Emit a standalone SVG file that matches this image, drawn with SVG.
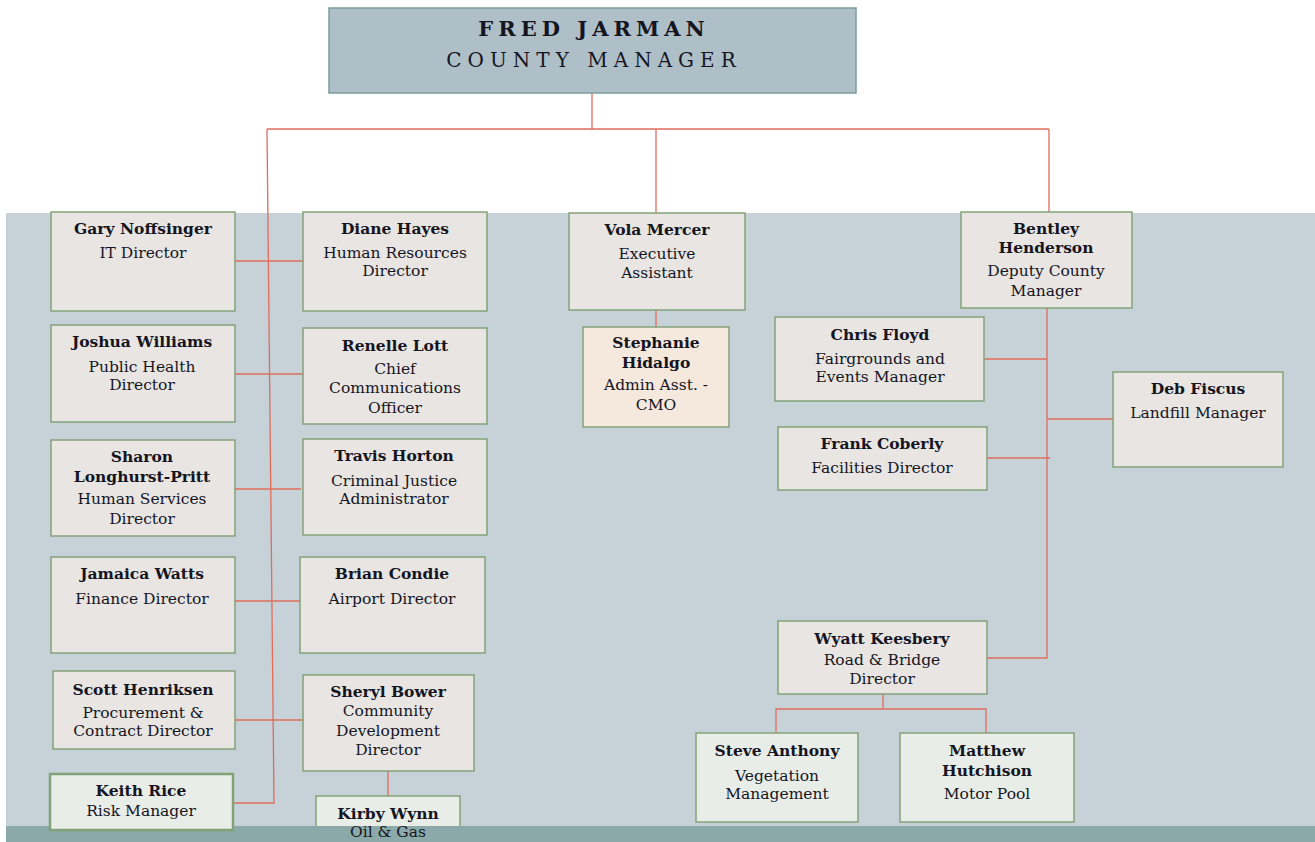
<svg xmlns="http://www.w3.org/2000/svg" width="1315" height="842" viewBox="0 0 1315 842">
<style>
.box{fill:#e8e5e2;stroke:#82a378;stroke-width:1.5}
.peach{fill:#f5e8dc;stroke:#82a378;stroke-width:1.5}
.lt{fill:#e9ede8;stroke:#82a378;stroke-width:1.5}
.lt2{fill:#e9ede8;stroke:#82a378;stroke-width:2.5}
.n{font-family:"DejaVu Serif","Liberation Serif",serif;font-weight:bold;font-size:15.5px;fill:#15151f;text-anchor:middle}
.t{font-family:"DejaVu Serif","Liberation Serif",serif;font-size:15.5px;fill:#15151f;text-anchor:middle}
.c{stroke:#e06d5c;stroke-width:1.3;fill:none}
.h1{font-family:"DejaVu Serif","Liberation Serif",serif;font-weight:bold;font-size:21px;letter-spacing:5px;fill:#15151f;text-anchor:middle}
.h2{font-family:"DejaVu Serif","Liberation Serif",serif;font-size:20px;letter-spacing:6px;fill:#15151f;text-anchor:middle}
</style>
<defs>
<clipPath id="clipK"><rect x="0" y="0" width="1315" height="826"/></clipPath>
</defs>
<rect x="0" y="0" width="1315" height="842" fill="#ffffff"/>
<rect x="6" y="213" width="1309" height="613" fill="#c6d1d8"/>
<rect x="6" y="826" width="1309" height="16" fill="#8aa9a8"/>

<g id="connectors">
<path class="c" d="M592 93V129M267 129H1049M656 129V213M1049 129V212"/>
<path class="c" d="M267 129L274 803H233"/>
<path class="c" d="M235 261H303M235 374H305M232 489H301M235 601H300M235 720H303M388 771V796"/>
<path class="c" d="M656 310V327"/>
<path class="c" d="M1047 308V658H987M984 359H1047M1047 419H1113M987 458H1050"/>
<path class="c" d="M883 694V709M776 733V709H986V733"/>
</g>

<g id="fred-jarman">
<rect x="329" y="8" width="527" height="85" fill="#aebfc8" stroke="#7a9e9a" stroke-width="1.5"/>
<text class="h1" x="594" y="36">FRED JARMAN</text>
<text class="h2" x="594" y="67">COUNTY MANAGER</text>
</g>

<g id="gary-noffsinger">
<rect class="box" x="51" y="212" width="184" height="99"/>
<text class="n" x="143" y="234">Gary Noffsinger</text>
<text class="t" x="143" y="258">IT Director</text>
</g>
<g id="diane-hayes">
<rect class="box" x="303" y="212" width="184" height="99"/>
<text class="n" x="395" y="234">Diane Hayes</text>
<text class="t" x="395" y="258">Human Resources</text>
<text class="t" x="395" y="276">Director</text>
</g>
<g id="joshua-williams">
<rect class="box" x="51" y="325" width="184" height="97"/>
<text class="n" x="142" y="347">Joshua Williams</text>
<text class="t" x="142" y="372">Public Health</text>
<text class="t" x="142" y="390">Director</text>
</g>
<g id="renelle-lott">
<rect class="box" x="303" y="328" width="184" height="96"/>
<text class="n" x="395" y="351">Renelle Lott</text>
<text class="t" x="395" y="374">Chief</text>
<text class="t" x="395" y="393">Communications</text>
<text class="t" x="395" y="413">Officer</text>
</g>
<g id="sharon-longhurst-pritt">
<rect class="box" x="51" y="440" width="184" height="96"/>
<text class="n" x="142" y="462">Sharon</text>
<text class="n" x="142" y="482">Longhurst-Pritt</text>
<text class="t" x="142" y="504">Human Services</text>
<text class="t" x="142" y="524">Director</text>
</g>
<g id="travis-horton">
<rect class="box" x="303" y="439" width="184" height="96"/>
<text class="n" x="394" y="461">Travis Horton</text>
<text class="t" x="394" y="486">Criminal Justice</text>
<text class="t" x="394" y="504">Administrator</text>
</g>
<g id="jamaica-watts">
<rect class="box" x="51" y="557" width="184" height="96"/>
<text class="n" x="142" y="579">Jamaica Watts</text>
<text class="t" x="142" y="604">Finance Director</text>
</g>
<g id="brian-condie">
<rect class="box" x="300" y="557" width="185" height="96"/>
<text class="n" x="392" y="579">Brian Condie</text>
<text class="t" x="392" y="604">Airport Director</text>
</g>
<g id="scott-henriksen">
<rect class="box" x="53" y="671" width="182" height="78"/>
<text class="n" x="143" y="695">Scott Henriksen</text>
<text class="t" x="143" y="718">Procurement &amp;</text>
<text class="t" x="143" y="736">Contract Director</text>
</g>
<g id="sheryl-bower">
<rect class="box" x="303" y="675" width="171" height="96"/>
<text class="n" x="388" y="697">Sheryl Bower</text>
<text class="t" x="388" y="716">Community</text>
<text class="t" x="388" y="736">Development</text>
<text class="t" x="388" y="755">Director</text>
</g>
<g id="keith-rice">
<rect class="lt2" x="50" y="774" width="183" height="56"/>
<text class="n" x="141" y="796">Keith Rice</text>
<text class="t" x="141" y="816">Risk Manager</text>
</g>
<g id="kirby-wynn">
<rect class="lt" x="316" y="796" width="144" height="60" clip-path="url(#clipK)"/>
<text class="n" x="388" y="819">Kirby Wynn</text>
<text class="t" x="388" y="837" font-size="13.5">Oil &amp; Gas</text>
</g>

<g id="vola-mercer">
<rect class="box" x="569" y="213" width="176" height="97"/>
<text class="n" x="657" y="235">Vola Mercer</text>
<text class="t" x="657" y="259">Executive</text>
<text class="t" x="657" y="278">Assistant</text>
</g>
<g id="stephanie-hidalgo">
<rect class="peach" x="583" y="327" width="146" height="100"/>
<text class="n" x="656" y="348">Stephanie</text>
<text class="n" x="656" y="368">Hidalgo</text>
<text class="t" x="656" y="390">Admin Asst. -</text>
<text class="t" x="656" y="410">CMO</text>
</g>

<g id="bentley-henderson">
<rect class="box" x="961" y="212" width="171" height="96"/>
<text class="n" x="1046" y="234">Bentley</text>
<text class="n" x="1046" y="253">Henderson</text>
<text class="t" x="1046" y="276">Deputy County</text>
<text class="t" x="1046" y="296">Manager</text>
</g>
<g id="chris-floyd">
<rect class="box" x="775" y="317" width="209" height="84"/>
<text class="n" x="880" y="340">Chris Floyd</text>
<text class="t" x="880" y="364">Fairgrounds and</text>
<text class="t" x="880" y="382">Events Manager</text>
</g>
<g id="deb-fiscus">
<rect class="box" x="1113" y="372" width="170" height="95"/>
<text class="n" x="1198" y="394">Deb Fiscus</text>
<text class="t" x="1198" y="418">Landfill Manager</text>
</g>
<g id="frank-coberly">
<rect class="box" x="778" y="427" width="209" height="63"/>
<text class="n" x="882" y="449">Frank Coberly</text>
<text class="t" x="882" y="473">Facilities Director</text>
</g>
<g id="wyatt-keesbery">
<rect class="box" x="778" y="621" width="209" height="73"/>
<text class="n" x="882" y="644">Wyatt Keesbery</text>
<text class="t" x="882" y="665">Road &amp; Bridge</text>
<text class="t" x="882" y="684">Director</text>
</g>
<g id="steve-anthony">
<rect class="lt" x="696" y="733" width="162" height="89"/>
<text class="n" x="777" y="756">Steve Anthony</text>
<text class="t" x="777" y="781">Vegetation</text>
<text class="t" x="777" y="799">Management</text>
</g>
<g id="matthew-hutchison">
<rect class="lt" x="900" y="733" width="174" height="89"/>
<text class="n" x="987" y="756">Matthew</text>
<text class="n" x="987" y="776">Hutchison</text>
<text class="t" x="987" y="799">Motor Pool</text>
</g>
</svg>
